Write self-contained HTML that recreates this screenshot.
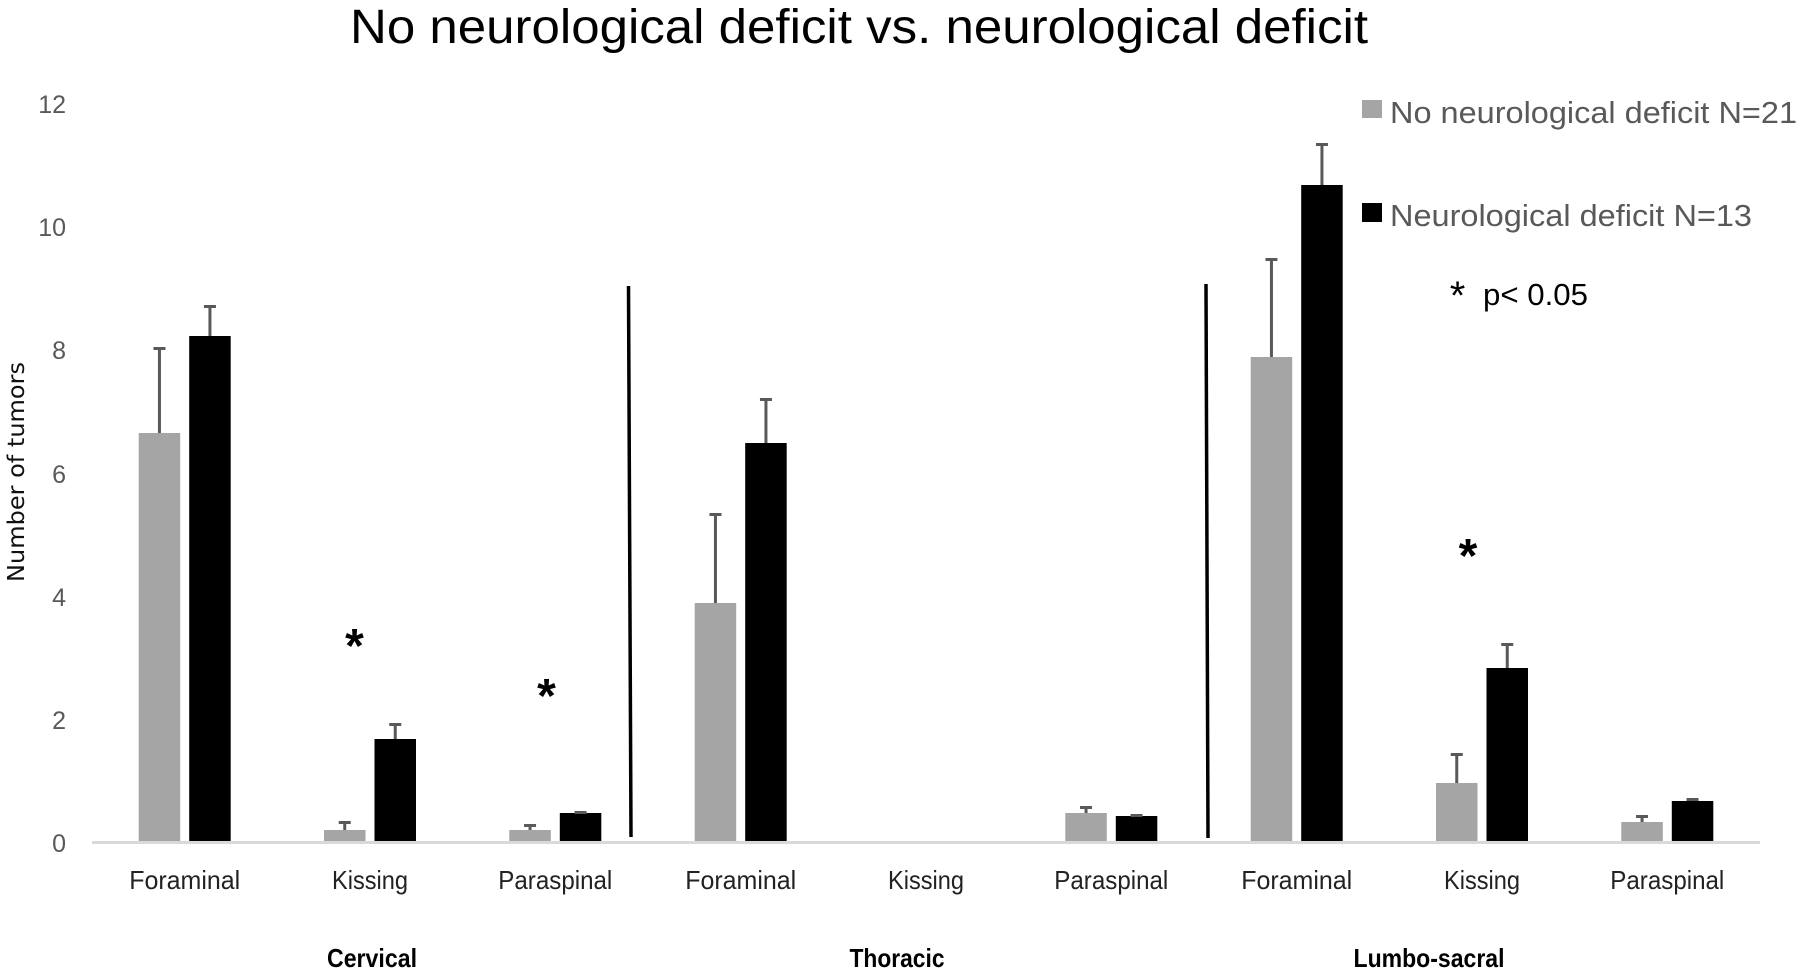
<!DOCTYPE html>
<html>
<head>
<meta charset="utf-8">
<style>
  html, body { margin: 0; padding: 0; background: #ffffff; }
  svg { display: block; }
</style>
</head>
<body>
<svg width="1800" height="974" viewBox="0 0 1800 974" xmlns="http://www.w3.org/2000/svg">
  <rect x="0" y="0" width="1800" height="974" fill="#ffffff"/>

  <!-- Title -->
  <text x="350" y="43" font-family="Liberation Sans, sans-serif" font-size="48" fill="#000" textLength="1018" lengthAdjust="spacingAndGlyphs">No neurological deficit vs. neurological deficit</text>

  <!-- Y tick labels -->
  <g font-family="Liberation Sans, sans-serif" font-size="25" fill="#595959" text-anchor="end">
    <text x="66" y="113">12</text>
    <text x="66" y="236">10</text>
    <text x="66" y="359">8</text>
    <text x="66" y="483">6</text>
    <text x="66" y="606">4</text>
    <text x="66" y="729">2</text>
    <text x="66" y="852">0</text>
  </g>

  <!-- Y axis title -->
  <text transform="translate(24,472) rotate(-90)" text-anchor="middle" font-family="DejaVu Sans, sans-serif" font-size="23" fill="#111" textLength="220" lengthAdjust="spacingAndGlyphs">Number of tumors</text>

  <!-- Gray bars -->
  <g fill="#a5a5a5">
    <rect x="138.7" y="433" width="41.5" height="408"/>
    <rect x="324" y="830" width="41.5" height="11"/>
    <rect x="509.3" y="830" width="41.5" height="11"/>
    <rect x="694.7" y="603" width="41.5" height="238"/>
    <rect x="1065.3" y="813" width="41.5" height="28"/>
    <rect x="1250.7" y="357" width="41.5" height="484"/>
    <rect x="1436" y="783" width="41.5" height="58"/>
    <rect x="1621.3" y="822" width="41.5" height="19"/>
  </g>

  <!-- Black bars -->
  <g fill="#000">
    <rect x="189.2" y="336" width="41.5" height="505"/>
    <rect x="374.5" y="739" width="41.5" height="102"/>
    <rect x="559.8" y="813" width="41.5" height="28"/>
    <rect x="745.2" y="443" width="41.5" height="398"/>
    <rect x="1115.8" y="816" width="41.5" height="25"/>
    <rect x="1301.2" y="185" width="41.5" height="656"/>
    <rect x="1486.5" y="668" width="41.5" height="173"/>
    <rect x="1671.8" y="801" width="41.5" height="40"/>
  </g>

  <!-- Error bars -->
  <g stroke="#595959" stroke-width="3" fill="none">
    <path d="M159.45 433 V347 M153.45 348.5 H165.45"/>
    <path d="M344.75 830 V821 M338.75 822.5 H350.75"/>
    <path d="M530.05 830 V824 M524.05 825.5 H536.05"/>
    <path d="M715.45 603 V513 M709.45 514.5 H721.45"/>
    <path d="M1086.05 813 V806 M1080.05 807.5 H1092.05"/>
    <path d="M1271.45 357 V258 M1265.45 259.5 H1277.45"/>
    <path d="M1456.75 783 V753 M1450.75 754.5 H1462.75"/>
    <path d="M1642.05 822 V815 M1636.05 816.5 H1648.05"/>
    <path d="M209.95 336 V305 M203.95 306.5 H215.95"/>
    <path d="M395.25 739 V723 M389.25 724.5 H401.25"/>
    <path d="M574.55 812.5 H586.55"/>
    <path d="M765.95 443 V398 M759.95 399.5 H771.95"/>
    <path d="M1130.55 815.5 H1142.55"/>
    <path d="M1321.95 185 V143 M1315.95 144.5 H1327.95"/>
    <path d="M1507.25 668 V643 M1501.25 644.5 H1513.25"/>
    <path d="M1692.55 801 V798 M1686.55 799.5 H1698.55"/>
  </g>

  <!-- Axis line -->
  <rect x="92" y="841" width="1668" height="3" fill="#d9d9d9"/>

  <!-- Separator lines -->
  <g stroke="#000" stroke-width="3.5">
    <line x1="628.5" y1="286" x2="631" y2="837"/>
    <line x1="1206" y1="284" x2="1208" y2="838"/>
  </g>

  <!-- Significance asterisks -->
  <g font-family="Liberation Sans, sans-serif" font-size="48" font-weight="bold" fill="#000" text-anchor="middle">
    <text x="354.5" y="662">*</text>
    <text x="546.5" y="712">*</text>
    <text x="1468" y="572">*</text>
  </g>

  <!-- Category labels -->
  <g font-family="Liberation Sans, sans-serif" font-size="26" fill="#222" text-anchor="middle">
    <text x="184.7" y="889" textLength="111" lengthAdjust="spacingAndGlyphs">Foraminal</text>
    <text x="370" y="889" textLength="76" lengthAdjust="spacingAndGlyphs">Kissing</text>
    <text x="555.3" y="889" textLength="114" lengthAdjust="spacingAndGlyphs">Paraspinal</text>
    <text x="740.7" y="889" textLength="111" lengthAdjust="spacingAndGlyphs">Foraminal</text>
    <text x="926" y="889" textLength="76" lengthAdjust="spacingAndGlyphs">Kissing</text>
    <text x="1111.3" y="889" textLength="114" lengthAdjust="spacingAndGlyphs">Paraspinal</text>
    <text x="1296.7" y="889" textLength="111" lengthAdjust="spacingAndGlyphs">Foraminal</text>
    <text x="1482" y="889" textLength="76" lengthAdjust="spacingAndGlyphs">Kissing</text>
    <text x="1667.3" y="889" textLength="114" lengthAdjust="spacingAndGlyphs">Paraspinal</text>
  </g>

  <!-- Group labels -->
  <g font-family="Liberation Sans, sans-serif" font-size="26" font-weight="bold" fill="#000" text-anchor="middle">
    <text x="372" y="967" textLength="90" lengthAdjust="spacingAndGlyphs">Cervical</text>
    <text x="897" y="967" textLength="95" lengthAdjust="spacingAndGlyphs">Thoracic</text>
    <text x="1429" y="967" textLength="151" lengthAdjust="spacingAndGlyphs">Lumbo-sacral</text>
  </g>

  <!-- Legend -->
  <rect x="1362" y="100" width="20" height="18" fill="#a5a5a5"/>
  <text x="1390" y="123" font-family="Liberation Sans, sans-serif" font-size="31" fill="#595959" textLength="407" lengthAdjust="spacingAndGlyphs">No neurological deficit N=21</text>
  <rect x="1362" y="203" width="20" height="19" fill="#000"/>
  <text x="1390" y="226" font-family="Liberation Sans, sans-serif" font-size="31" fill="#595959" textLength="362" lengthAdjust="spacingAndGlyphs">Neurological deficit N=13</text>

  <text x="1457.5" y="309" font-family="Liberation Sans, sans-serif" font-size="40" fill="#000" text-anchor="middle">*</text>
  <text x="1483" y="305" font-family="Liberation Sans, sans-serif" font-size="31" fill="#000" textLength="105" lengthAdjust="spacingAndGlyphs">p&lt; 0.05</text>
</svg>
</body>
</html>
